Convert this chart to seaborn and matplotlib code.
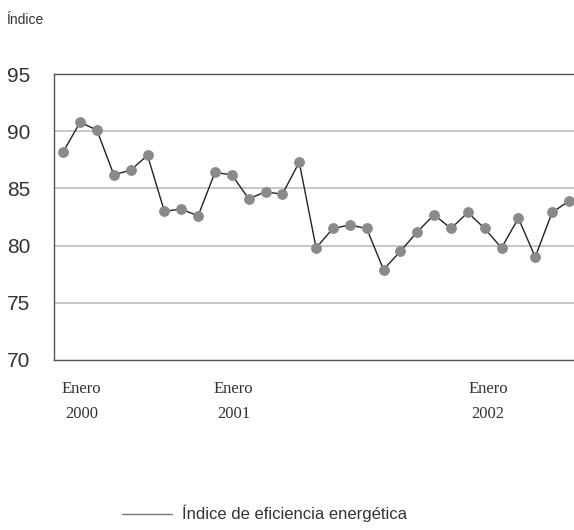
import matplotlib
matplotlib.use("Agg")
import matplotlib.pyplot as plt
import seaborn as sb
import pandas as pd
import numpy as np

# monthly energy efficiency index, Jan 2000 .. Jul 2002
months = list(range(31))
indice = [88.2, 90.8, 90.1, 86.2, 86.6, 87.9, 83.0, 83.2, 82.6, 86.4, 86.2, 84.1,
          84.7, 84.5, 87.3, 79.8, 81.5, 81.8, 81.5, 77.9, 79.5, 81.2, 82.7, 81.5,
          82.9, 81.5, 79.8, 82.4, 79.0, 82.9, 83.9]
tick_pos = [1.1, 10.1, 25.2]
tick_labels = ["Enero\n2000", "Enero\n2001", "Enero\n2002"]
y_ticks = [70, 75, 80, 85, 90, 95]

df = pd.DataFrame({"mes": months, "indice": indice})

sb.set_style("white")
plt.rcParams["font.family"] = ["Liberation Sans", "DejaVu Sans"]

fig = plt.figure(figsize=(5.74, 5.30), dpi=100)
ax = fig.add_axes([0.094, 0.321, 0.906, 0.539])

for y in y_ticks[1:-1]:
    ax.axhline(y, color="#bdbdbd", lw=1.2, zorder=0)

sb.lineplot(data=df, x="mes", y="indice", ax=ax, color="#222222", lw=1.0,
            marker="o", markersize=7, markerfacecolor="#8a8a8a",
            markeredgecolor="#8a8a8a", zorder=3)

ax.set_xlim(-0.55, 30.3)
ax.set_ylim(70, 95)
ax.set_yticks(y_ticks)
ax.set_yticklabels([str(v) for v in y_ticks], fontsize=15, color="#333333")
ax.set_xticks(tick_pos)
ax.set_xticklabels(tick_labels, fontsize=12, family="Liberation Serif",
                   color="#333333", linespacing=1.8)
ax.tick_params(axis="y", length=0, pad=17)
ax.tick_params(axis="x", length=0, pad=15)
ax.set_xlabel("")
ax.set_ylabel("")

for side in ["left", "bottom", "top"]:
    ax.spines[side].set_color("#555555")
    ax.spines[side].set_linewidth(1.0)
ax.spines["right"].set_visible(False)

fig.text(0.01, 0.955, "Índice", fontsize=10, color="#333333")

# legend drawn below the plot
fig.lines.append(plt.Line2D([0.213, 0.300], [0.031, 0.031], transform=fig.transFigure,
                            color="#777777", lw=1.0))
fig.text(0.317, 0.031, "Índice de eficiencia energética", fontsize=12,
         color="#333333", va="center")

fig.savefig("out.png", dpi=100)
